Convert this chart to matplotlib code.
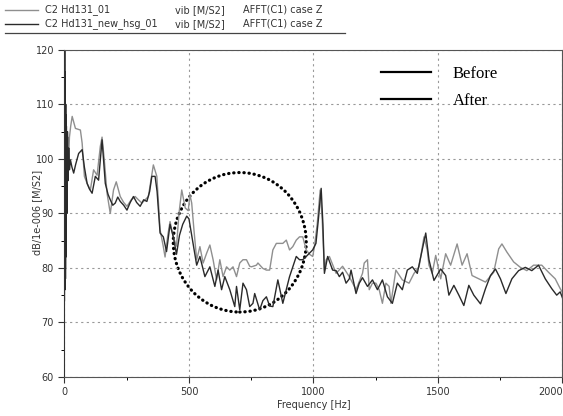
import numpy as np
import matplotlib
matplotlib.use("Agg")
import matplotlib.pyplot as plt
from matplotlib.patches import Ellipse
from matplotlib.lines import Line2D

# Data
freq_before = [0, 1, 2, 3, 4, 5, 6, 8, 10, 13, 16, 20, 25, 31, 44, 64, 71, 80, 91, 104, 117, 131, 144, 151, 160,
               171, 184, 197, 208, 224, 238, 251, 268, 284, 297, 311, 324, 337, 347, 357, 371, 384, 397, 404, 415,
               424, 437, 450, 460, 471, 485, 497, 504, 511, 520, 531, 544, 557, 571, 584, 597, 611, 624, 637, 651,
               664, 677, 691, 704, 717, 731, 744, 751, 771, 777, 797, 811, 824, 837, 851, 864, 877, 891, 904, 917,
               931, 944, 957, 971, 984, 997, 1004, 1015, 1027, 1035, 1044, 1051, 1064, 1091, 1117, 1144, 1171, 1197,
               1204, 1217, 1224, 1237, 1251, 1264, 1277, 1291, 1304, 1311, 1331, 1357, 1384, 1404, 1424, 1444, 1457,
               1464, 1477, 1491, 1511, 1531, 1551, 1577, 1597, 1617, 1637, 1664, 1691, 1724, 1744, 1757, 1777, 1804,
               1831, 1857, 1884, 1917, 1944, 1971, 1991, 2000]
db_before = [76, 116, 78, 112, 80, 108, 84, 106, 98, 104, 99, 104, 106, 107.8, 105.6, 105.3, 102.9, 96.8, 95.5, 94.3,
             98, 97, 102.3, 104, 99.8, 93.7, 90, 94.3, 95.8, 93.1, 92, 91.3, 92.5, 93.1, 92.5, 91.9, 92.5, 93.1, 96,
             98.9, 96.8, 87, 83.9, 82, 86, 88.5, 85.7, 84, 90, 94.3, 91, 90.5, 93.4, 91.9, 87, 81.5, 83.9, 80.9, 82.7,
             84.2, 81.5, 77.8, 81.5, 78.4, 80.2, 79.6, 80.2, 78.4, 80.9, 81.5, 81.5, 80.3, 80.2, 80.5, 80.9, 79.9,
             79.6, 79.6, 83.3, 84.5, 84.5, 84.5, 85.1, 83.3, 83.9, 85.1, 85.7, 85.7, 83.3, 82.5, 82.1, 83.9, 88, 94.3,
             89, 79.6, 81.5, 82.1, 79, 80.3, 78.4, 76, 79, 80.9, 81.5, 76, 77.2, 77.2, 76, 73.5, 77.2, 76.6, 73.5, 79.6,
             77.8, 77.2, 79, 80.2, 85.7, 83.3, 80.5, 79, 82.3, 78, 82.6, 80.5, 84.4, 80.5, 82.6, 78.6, 78, 77.4, 79.2,
             83.5, 84.4, 82.9, 81.1, 80.1, 79.5, 80.5, 80.5, 79.2, 78, 76.2, 75.5]

freq_after = [0, 1, 2, 3, 4, 5, 6, 7, 8, 10, 12, 14, 17, 20, 24, 30, 37, 45, 57, 71, 80, 91, 100, 111, 124, 137, 151,
              164, 175, 184, 194, 204, 214, 224, 238, 251, 264, 277, 290, 304, 318, 331, 342, 351, 364, 372, 384, 397,
              410, 424, 437, 450, 462, 475, 491, 500, 511, 531, 544, 564, 584, 604, 617, 631, 644, 664, 684, 691, 704,
              717, 731, 744, 757, 764, 784, 797, 811, 824, 837, 857, 877, 891, 904, 917, 931, 944, 957, 971, 984, 997,
              1010, 1020, 1031, 1038, 1044, 1057, 1077, 1091, 1104, 1117, 1131, 1144, 1151, 1171, 1184, 1197, 1217,
              1237, 1257, 1277, 1297, 1317, 1337, 1357, 1377, 1397, 1417, 1437, 1451, 1464, 1484, 1511, 1531, 1544,
              1564, 1584, 1604, 1624, 1644, 1671, 1691, 1711, 1731, 1751, 1773, 1797, 1824, 1851, 1877, 1904, 1931,
              1957, 1977, 1991, 2000]
db_after = [74, 120, 76, 116, 78, 110, 82, 108, 100.4, 90, 105, 96, 102, 98, 99.8, 98.5, 97.4, 99, 101, 101.7, 98.5,
            95.5, 94.5, 93.7, 96.8, 96.1, 103.5, 95.5, 93.5, 92.5, 91.5, 91.9, 93, 92.2, 91.5, 90.6, 92, 93.1, 92,
            91.3, 92.5, 92.2, 94, 96.8, 96.8, 94, 86.4, 85.7, 83, 88, 85.7, 82.5, 86, 88, 89.5, 89, 86, 80.5, 82.1,
            78.4, 80.2, 76.6, 79.6, 76, 78.4, 76, 72.9, 76.6, 72.3, 77.2, 76, 72.9, 73.5, 75.3, 72.3, 74, 74.7, 73,
            72.9, 77.8, 73.5, 76, 78.4, 80.2, 82.1, 81.5, 81.5, 82.1, 82.7, 83.3, 84.5, 89, 94.6, 88, 79, 82.1, 79.6,
            79.5, 78.4, 79.2, 77.2, 78, 79.6, 75.3, 77.2, 78.2, 76.6, 77.8, 76, 77.8, 74.7, 73.5, 77.2, 76, 79.6, 80.2,
            79, 83.3, 86.4, 81.5, 77.7, 79.8, 78.6, 75, 76.8, 75, 73.1, 76.8, 75, 73.4, 76.2, 78.6, 79.8, 78, 75.3, 78,
            79.5, 80.1, 79.5, 80.5, 78, 76.2, 75, 75.6, 74.5]

legend_labels = ["Before", "After"]
header_names = ["C2 Hd131_01", "C2 Hd131_new_hsg_01"]
header_unit = "vib [M/S2]"
header_case = "AFFT(C1) case Z"

fig = plt.figure(figsize=(5.63, 4.16), dpi=100)
ax = fig.add_axes([0.1145, 0.094, 0.8845, 0.786])

ax.plot(freq_before, db_before, color="#8f8f8f", lw=1.0)
ax.plot(freq_after, db_after, color="#2a2a2a", lw=1.0)

# dotted circle marking the improved band
circ = Ellipse((704, 84.7), 534, 25.6, fill=False, color="black", lw=2.3,
               linestyle=(0, (0.1, 1.5)), capstyle="round")
ax.add_patch(circ)

ax.set_xlim(0, 2000)
ax.set_ylim(60, 120)
ax.set_xticks([0, 500, 1000, 1500, 2000])
ax.set_xticks([250, 750, 1250, 1750], minor=True)
ax.set_yticks([60, 70, 80, 90, 100, 110, 120])
ax.set_yticks([65, 75, 85, 95, 105, 115], minor=True)
ax.tick_params(labelsize=7, colors="#333333", length=4, width=0.8)
ax.tick_params(which="minor", length=2, width=0.7)
ax.grid(True, which="major", color="#999999", lw=0.8, linestyle=(0, (2, 3)))
# last x label sits flush with the right edge, as on the printout
ax.get_xticklabels()[-1].set_horizontalalignment("right")

for side in ["top", "right", "bottom"]:
    ax.spines[side].set_linestyle((0, (3, 1)))
    ax.spines[side].set_color("#555555")
ax.spines["left"].set_color("#333333")

ax.set_xlabel("Frequency [Hz]", fontsize=7, color="#333333", labelpad=2)
fig.text(37 / 563, 0.49, "dB/1e-006 [M/S2]", rotation=90, ha="center", va="center",
         fontsize=7, color="#333333")

handles = [Line2D([], [], color="black", lw=1.6), Line2D([], [], color="black", lw=1.6)]
ax.legend(handles, legend_labels, loc="upper left", bbox_to_anchor=(0.636, 0.952), frameon=False,
          borderpad=0, borderaxespad=0, handlelength=3.0, handletextpad=1.3, labelspacing=0.7,
          prop={"family": "Liberation Serif", "size": 12})

# header rows like the analyser printout
rows_y = [1 - 10 / 416, 1 - 24 / 416]
row_cols = ["#8f8f8f", "#2a2a2a"]
for y, name, c in zip(rows_y, header_names, row_cols):
    fig.add_artist(Line2D([5 / 563, 38 / 563], [y, y], color=c, lw=1.0))
    fig.text(45 / 563, y, name, fontsize=7, va="center", color="#333333")
    fig.text(175 / 563, y, header_unit, fontsize=7, va="center", color="#333333")
    fig.text(243 / 563, y, header_case, fontsize=7, va="center", color="#333333")
fig.add_artist(Line2D([5 / 563, 345 / 563], [1 - 33 / 416, 1 - 33 / 416], color="#444444", lw=0.9))

fig.savefig("out.png", dpi=100)
